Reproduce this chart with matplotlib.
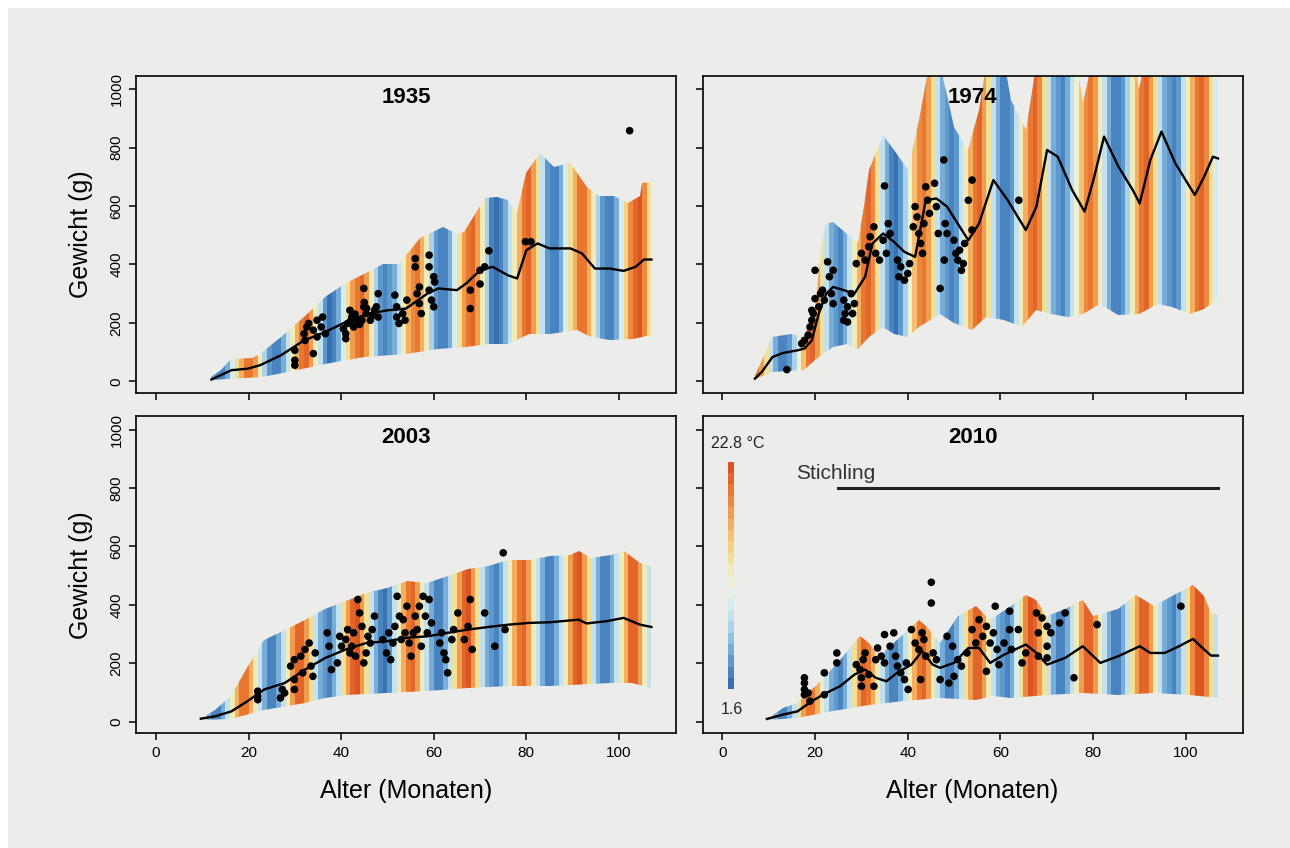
import matplotlib
matplotlib.use("Agg")
import matplotlib.pyplot as plt
import numpy as np
from matplotlib.colors import LinearSegmentedColormap, ListedColormap, BoundaryNorm
from matplotlib.patches import Polygon, Rectangle

plt.rcParams['font.family'] = ['Liberation Sans', 'DejaVu Sans']

# --- temperature scale (legend) ---
t_min, t_max = 1.6, 22.8
n_levels = 20

# --- stickleback period ---
stichling_from, stichling_to, stichling_level = 25, 107, 800

# --- monthly water temperature (degC), one value per month of age ---
start_1935 = 12
temp_1935 = [
    4.0, 3.1, 3.6, 5.6, 9.2, 13.6, 17.4, 20.0, 20.6, 17.6, 12.8, 7.6,
    4.4, 2.8, 3.2, 5.0, 8.8, 13.0, 17.0, 19.8, 21.0, 18.2, 13.2, 8.0,
    3.8, 2.6, 3.0, 5.2, 9.4, 13.8, 17.6, 20.2, 20.8, 17.8, 12.6, 7.4,
    4.6, 3.4, 3.8, 5.8, 9.0, 13.2, 17.2, 19.6, 20.4, 17.2, 12.4, 7.8,
    4.2, 2.9, 3.4, 5.4, 9.6, 14.0, 17.8, 20.4, 20.9, 18.0, 13.0, 7.2,
    3.6, 2.4, 2.8, 4.8, 8.6, 12.8, 16.8, 19.9, 21.2, 18.4, 13.4, 8.2,
    4.4, 3.2, 3.6, 5.6, 9.2, 13.4, 17.4, 20.1, 20.6, 17.4, 12.6, 7.6,
    4.0, 2.7, 3.3, 5.2, 9.8, 14.4, 18.6, 21.4, 22.4, 19.0, 13.8]

start_1974 = 7
temp_1974 = [
    20.4, 17.8, 13.4, 8.6, 5.0,
    3.6, 2.8, 4.4, 7.8, 12.2, 16.4, 19.8, 21.0, 18.4, 13.8, 9.0, 5.4,
    4.0, 3.2, 4.8, 8.2, 12.8, 17.0, 20.4, 21.6, 18.8, 14.0, 8.6, 5.0,
    3.4, 2.6, 4.2, 7.6, 12.0, 16.2, 19.4, 20.6, 18.0, 13.4, 8.4, 4.8,
    3.8, 3.0, 4.6, 8.0, 12.4, 16.6, 19.8, 20.8, 18.2, 13.6, 8.8, 5.2,
    3.6, 2.9, 4.5, 8.2, 12.6, 16.8, 20.0, 21.0, 18.6, 13.8, 9.0, 5.6,
    4.2, 3.4, 5.0, 8.4, 12.2, 16.4, 19.6, 20.4, 17.8, 13.2, 8.6, 5.0,
    3.6, 2.7, 4.3, 7.8, 12.4, 16.8, 20.2, 21.2, 18.4, 13.6, 8.8, 5.2,
    3.8, 3.1, 4.7, 8.1, 12.9, 17.2, 20.6, 21.4, 18.6, 14.0, 9.2]

start_2003 = 10
temp_2003 = [
    8.2, 4.8,
    3.4, 2.8, 4.8, 8.4, 12.8, 17.2, 20.4, 20.6, 17.4, 13.0, 8.2, 4.8,
    3.6, 3.0, 5.0, 8.6, 13.2, 17.6, 20.8, 21.0, 17.8, 13.4, 8.6, 5.2,
    3.8, 3.2, 5.2, 9.0, 13.6, 18.2, 21.4, 22.2, 18.4, 13.6, 8.4, 5.0,
    3.4, 2.6, 4.6, 8.2, 12.6, 17.0, 20.2, 20.8, 17.6, 13.2, 8.2, 4.8,
    3.6, 3.0, 5.0, 8.8, 13.4, 17.8, 21.2, 21.8, 18.2, 13.4, 8.6, 5.2,
    3.8, 3.2, 5.2, 8.6, 13.0, 17.4, 20.6, 21.0, 17.8, 13.2, 8.4, 5.0,
    3.4, 2.8, 4.8, 8.4, 13.2, 17.8, 21.0, 21.9, 18.0, 13.6, 8.8, 5.4,
    3.6, 3.0, 5.0, 8.6, 13.0, 17.4, 20.8, 21.2, 17.8, 13.2, 8.4]

start_2010 = 10
temp_2010 = [
    8.4, 5.0,
    3.6, 3.0, 5.0, 8.8, 13.4, 17.6, 20.4, 20.2, 17.2, 12.8, 8.2, 4.8,
    3.8, 3.2, 5.2, 9.0, 13.6, 17.8, 20.8, 20.6, 17.4, 13.0, 8.4, 5.0,
    3.4, 2.8, 4.8, 8.6, 13.2, 17.4, 20.6, 20.9, 17.8, 13.2, 8.6, 5.2,
    3.6, 3.0, 5.0, 8.8, 13.6, 18.0, 21.0, 20.8, 17.6, 13.0, 8.2, 4.8,
    3.8, 3.2, 5.4, 9.2, 14.0, 18.6, 22.0, 21.6, 18.0, 13.4, 8.6, 5.0,
    3.4, 2.8, 4.8, 8.6, 13.2, 17.6, 20.8, 20.8, 17.6, 13.0, 8.4, 5.0,
    3.6, 3.0, 5.0, 8.8, 13.4, 17.8, 21.0, 21.2, 17.8, 13.2, 8.6, 5.2,
    3.8, 3.2, 5.2, 9.0, 14.0, 18.8, 22.2, 22.6, 19.0, 13.8, 9.0]

# --- envelope of simulated weights (month, g) ---
upper_1935 = [(12, 15), (14, 40), (16.3, 78), (20.7, 80), (22.5, 95), (27, 152), (32, 220),
              (36.6, 290), (41, 335), (45.4, 370), (49, 403), (52.5, 403), (57, 489), (62, 530),
              (65, 506), (66.6, 512), (71, 626), (73.6, 632), (76, 620), (78, 575), (80, 712),
              (83, 780), (86, 735), (89.5, 746), (93, 666), (95.7, 634), (99, 634), (102, 609),
              (104.5, 634), (105, 678), (107, 683)]
lower_1935 = [(12, 3), (23, 15), (28.6, 32), (36.6, 60), (45, 83), (54, 95), (61, 112), (67, 118),
              (72, 129), (76, 129), (80.6, 163), (85, 163), (91, 175), (94, 152), (98, 143),
              (103, 146), (107, 158)]

upper_1974 = [(6.6, 3), (8.5, 72), (10.8, 152), (14.7, 163), (17.7, 152), (20, 243), (21.5, 480),
              (22.4, 540), (23.9, 546), (27, 506), (29.3, 472), (30.5, 600), (31.6, 723),
              (34.7, 843), (37, 792), (40, 723), (42.4, 895), (44.7, 1080), (47, 1080), (48.5, 980),
              (50, 872), (53, 792), (55.4, 929), (57, 1080), (61, 1080), (62.4, 963), (65.5, 860),
              (67.8, 1080), (76.5, 1080), (77.8, 952), (79.5, 1080), (89, 1080), (90, 1000),
              (91, 1080), (107, 1080)]
lower_1974 = [(6.6, 3), (10.8, 32), (17.7, 38), (20, 72), (23.9, 118), (27, 129), (29.3, 112),
              (31.6, 152), (34.7, 186), (37, 163), (40, 152), (42.4, 186), (47, 232), (50, 198),
              (53.9, 175), (57, 220), (60.8, 209), (64.7, 186), (67.8, 243), (70.9, 232),
              (74.7, 220), (77.8, 232), (81.6, 266), (85.5, 226), (90, 232), (94, 266), (97, 255),
              (100.9, 232), (104, 249), (107, 283)]

upper_2003 = [(9.6, 10), (12.8, 41), (16.3, 87), (19.8, 190), (23.4, 281), (27.8, 315),
              (32.2, 349), (36.6, 384), (41, 412), (45.4, 441), (49.8, 458), (54.2, 481),
              (58.6, 475), (63, 498), (67.4, 521), (71.8, 532), (76.2, 555), (80.7, 555), (85, 566),
              (89.5, 572), (91.3, 583), (94, 560), (98.3, 572), (101, 583), (104.5, 543), (107, 532)]
lower_2003 = [(9.6, 5), (16.3, 9), (23.4, 41), (32.2, 64), (36.6, 81), (41, 92), (49.8, 98),
              (58.6, 104), (67.4, 115), (76.2, 121), (85, 121), (94, 127), (98.3, 132),
              (102.7, 132), (107, 115)]

upper_2010 = [(9.6, 9), (13.1, 47), (16.2, 64), (18.5, 98), (21.6, 144), (25.4, 212), (29.7, 292),
              (31.6, 269), (33.9, 224), (37.7, 281), (42.4, 349), (43.9, 326), (47, 269),
              (50.8, 361), (54.7, 395), (57.8, 349), (62.4, 395), (65.5, 435), (67.8, 418),
              (70.1, 361), (74, 384), (77.8, 418), (80.1, 361), (85.5, 384), (89.3, 435),
              (93.2, 395), (97, 429), (101.6, 469), (104, 429), (105.5, 372), (107, 366)]
lower_2010 = [(9.6, 5), (16.2, 13), (23.9, 35), (31.6, 58), (39.3, 70), (47, 81), (54.7, 75),
              (58.5, 87), (62.4, 81), (70.1, 92), (77.8, 98), (85.5, 92), (93.2, 98), (100.9, 92),
              (107, 81)]

# --- mean weight (month, g) ---
mean_1935 = [(12, 6), (16.3, 38), (19.8, 43), (22.5, 55), (27, 89), (32, 140), (36.6, 169),
             (41, 203), (46, 232), (50, 243), (54, 249), (58.6, 300), (61, 318), (65, 312),
             (67, 335), (70, 380), (72.7, 392), (76, 363), (78, 352), (80, 449), (82.4, 472),
             (85, 455), (89.5, 455), (92, 438), (94.8, 386), (98, 386), (101, 378), (103.6, 392),
             (105.4, 417), (107, 417)]
mean_1974 = [(7, 9), (8.5, 32), (10.8, 83), (13.1, 97), (16.2, 106), (17.7, 112), (19.3, 140),
             (20.8, 232), (22.4, 300), (23.9, 323), (26.2, 312), (28.5, 300), (30.8, 358),
             (32.4, 472), (34.7, 506), (37, 478), (39.3, 443), (41.6, 426), (43.9, 620),
             (46.2, 626), (48.5, 598), (50.8, 540), (53.1, 483), (55.4, 540), (58.5, 689),
             (61.6, 620), (65.5, 518), (67.8, 598), (70.1, 792), (72.4, 769), (75.5, 655),
             (78.2, 581), (80.1, 689), (82.4, 838), (85.5, 735), (88.6, 655), (90.1, 609),
             (92.4, 758), (94.8, 855), (97.8, 746), (100.9, 666), (102, 638), (104, 700),
             (105.9, 769), (107, 763)]
mean_2003 = [(9.7, 10), (12.8, 18), (16.3, 35), (19.8, 70), (23.4, 110), (27.8, 132), (32.2, 178),
             (36.6, 218), (41, 247), (45.4, 269), (49.8, 275), (54.2, 287), (58.6, 292), (63, 304),
             (67.4, 315), (71.8, 324), (76.2, 332), (80.7, 338), (85, 340), (91.3, 349), (93, 336),
             (97.4, 344), (101, 355), (104.5, 332), (107, 324)]
mean_2010 = [(9.6, 9), (13.1, 24), (16.2, 35), (19.3, 70), (22.4, 98), (25.4, 121), (28.5, 161),
             (30.8, 178), (33.1, 150), (35.4, 138), (37.7, 167), (40.8, 195), (43.1, 241),
             (45.4, 195), (47, 184), (50, 201), (53.1, 252), (55.4, 252), (57.8, 201), (60.8, 229),
             (65.5, 264), (67.8, 235), (70.1, 195), (74, 218), (77.8, 258), (81.6, 201),
             (85.5, 224), (90.1, 258), (92.4, 235), (95.5, 235), (98.6, 258), (101.6, 283),
             (104, 247), (105.5, 226), (107, 226)]

# --- observed fish (month, g) ---
fish_1935 = [(30, 106), (30, 72), (30, 55), (32.2, 140), (32.6, 186), (32, 163), (33, 198), (34, 95),
             (34.8, 209), (35.7, 186), (36, 220), (34, 175), (34.8, 152), (36.6, 163), (41, 163),
             (41, 146), (41.4, 198), (41.9, 243), (42.3, 220), (42.7, 186), (43.6, 198), (44.5, 209),
             (44.9, 318), (44.9, 255), (45.4, 232), (46.3, 209), (47.2, 243), (48, 300), (47.6, 255),
             (48, 220), (40.5, 180), (42, 205), (43, 230), (44, 195), (45.5, 250), (46.8, 225),
             (43.2, 215), (45, 270), (51.6, 295), (52, 255), (52.5, 198), (52, 220), (53.3, 232),
             (53.8, 209), (54.2, 278), (56, 420), (56, 392), (56.4, 300), (56.9, 266), (57.3, 232),
             (56.9, 323), (59, 432), (59, 392), (59, 312), (59.5, 278), (60, 255), (60, 358),
             (60.2, 340), (67.9, 312), (67.9, 249), (70, 333), (70, 380), (71, 392), (71.9, 447),
             (79.8, 478), (81, 478), (102.3, 858)]
fish_1974 = [(13.9, 40), (17.1, 129), (17.7, 140), (18.5, 158), (18.9, 186), (19.3, 209), (19.6, 232),
             (19.3, 243), (20, 283), (20, 380), (20.8, 255), (21.2, 300), (21.6, 312), (22, 278),
             (22.7, 409), (23.1, 358), (23.5, 300), (23.9, 380), (23.9, 266), (26.2, 278), (26.5, 232),
             (26.2, 209), (27, 255), (27.8, 300), (28.1, 232), (28.5, 266), (27, 203), (28.9, 403),
             (30, 438), (30.8, 415), (31.6, 461), (31.9, 495), (32.7, 529), (33.1, 438), (33.9, 415),
             (35, 669), (34.7, 483), (35.4, 438), (35.8, 540), (36.2, 506), (37.8, 415), (38.1, 358),
             (38.5, 392), (39.3, 346), (40, 369), (40.4, 403), (41.2, 529), (41.6, 598), (42, 563),
             (42.4, 506), (42.8, 472), (43.2, 438), (43.5, 540), (43.9, 666), (44.3, 620), (44.7, 575),
             (45.8, 678), (46.2, 598), (46.6, 506), (47, 318), (47.8, 758), (47.9, 415), (48.1, 540),
             (48.5, 506), (50, 483), (50.4, 438), (50.8, 415), (51.2, 449), (51.6, 380), (52, 403),
             (52.3, 472), (53.1, 620), (53.9, 689), (53.9, 518), (64, 620)]
fish_2003 = [(22, 104), (22, 87), (22, 75), (26.9, 81), (27.8, 98), (27.3, 110), (29.1, 190),
             (29.9, 212), (29.9, 144), (29.9, 110), (31.3, 224), (31.7, 167), (32.2, 247), (33.1, 269),
             (33.5, 190), (33.9, 155), (34.4, 235), (37, 304), (37.4, 258), (37.9, 178), (39.2, 201),
             (39.7, 292), (40.1, 258), (41, 281), (41.4, 315), (41.9, 235), (42.3, 258), (42.7, 304),
             (43.1, 224), (43.6, 418), (44, 372), (44.5, 326), (44.9, 201), (45.4, 235), (45.8, 292),
             (46.3, 269), (46.7, 315), (47.2, 361), (49, 281), (49.8, 235), (50.3, 304), (50.7, 212),
             (51.2, 269), (51.6, 326), (52.1, 429), (52.6, 361), (53, 281), (53.4, 349), (53.8, 304),
             (54.2, 395), (54.7, 269), (55.1, 224), (55.6, 304), (56, 361), (56.4, 315), (56.9, 395),
             (57.3, 258), (57.7, 429), (58.2, 361), (58.6, 304), (59, 418), (59.5, 338), (61.3, 269),
             (61.7, 304), (62.2, 235), (62.6, 212), (63, 167), (63.9, 281), (64.3, 315), (65.2, 372),
             (66.6, 281), (67.4, 326), (67.9, 418), (68.3, 247), (71, 372), (73.2, 258), (75, 578),
             (75.4, 315)]
fish_2010 = [(17.7, 150), (17.7, 132), (17.7, 110), (18.5, 98), (17.7, 92), (18.9, 70), (22, 167),
             (22, 92), (24.7, 235), (24.7, 201), (28.9, 195), (29.7, 178), (30, 150), (30, 121),
             (30.4, 212), (30.8, 235), (31.6, 161), (32.7, 121), (33.1, 212), (33.5, 252), (34.3, 224),
             (35, 298), (35, 201), (36.2, 258), (37, 304), (37.4, 224), (37.8, 190), (38.5, 167),
             (39.3, 144), (39.7, 201), (40.1, 110), (40.8, 315), (41.6, 269), (42.4, 247), (42.8, 144),
             (43.1, 304), (43.5, 281), (43.9, 224), (45.1, 477), (45.1, 406), (45.5, 235), (46.2, 212),
             (47, 144), (48.5, 292), (48.9, 132), (49.7, 258), (50, 155), (50.8, 212), (51.6, 190),
             (52.8, 235), (53.9, 315), (54.7, 269), (55.4, 349), (56.2, 292), (57, 172), (57, 326),
             (57.8, 269), (58.5, 304), (58.9, 395), (59.3, 247), (59.7, 195), (60.8, 269), (62, 378),
             (62, 315), (62.4, 247), (63.9, 315), (64.7, 201), (65.5, 235), (67.8, 372), (68.2, 304),
             (68.2, 224), (69, 355), (70.1, 326), (70.1, 258), (70.1, 218), (70.9, 304), (72.8, 338),
             (74, 372), (75.9, 150), (80.9, 332), (99, 395)]

bg = '#ecedeb'
base = LinearSegmentedColormap.from_list('temp', ['#3870b2', '#5c98cd', '#8cbddf', '#bedeef',
                                                   '#e2f2f2', '#f0f0c8', '#f4dc8c', '#f6bb6c',
                                                   '#f09a4c', '#e8762f', '#dc5422'])
cmap = ListedColormap(base(np.linspace(0, 1, n_levels)))
norm = BoundaryNorm(np.linspace(t_min, t_max, n_levels + 1), n_levels)


def draw_panel(ax, title, start, temps, upper, lower, mean, fish):
    ax.set_facecolor(bg)
    edges = np.arange(start, start + len(temps) + 1)
    env = np.array(upper + lower[::-1])
    poly = Polygon(env, closed=True, facecolor='none', edgecolor='none')
    ax.add_patch(poly)
    mesh = ax.pcolormesh(edges, [-60, 1100], np.array(temps)[None, :], cmap=cmap, norm=norm,
                         shading='flat', antialiased=False, zorder=1)
    mesh.set_clip_path(poly)
    mx, my = zip(*mean)
    ax.plot(mx, my, color='black', lw=1.7, zorder=3, solid_joinstyle='round')
    fx, fy = zip(*fish)
    ax.scatter(fx, fy, s=30, color='black', edgecolors='none', zorder=4)
    ax.text(0.5, 0.933, title, transform=ax.transAxes, ha='center', va='center',
            fontsize=16, fontweight='bold', zorder=5)
    ax.set_xlim(-4.3, 112.3)
    ax.set_ylim(-40, 1046)
    ax.set_xticks([0, 20, 40, 60, 80, 100])
    ax.set_yticks([0, 200, 400, 600, 800, 1000])
    ax.tick_params(direction='out', length=5, width=1.1, labelsize=11, pad=4)
    for s in ax.spines.values():
        s.set_linewidth(1.2)


def main():
    fig = plt.figure(figsize=(12.9, 8.48), dpi=100)
    fig.patch.set_facecolor('white')
    fig.add_artist(Rectangle((8 / 1290, 0), 1, 1 - 8 / 848, transform=fig.transFigure,
                             facecolor=bg, edgecolor='none', zorder=-10))

    lx, rx, w = 0.1054, 0.5446, 0.4186
    ty, by, h = 0.5366, 0.1353, 0.3740
    ax1 = fig.add_axes([lx, ty, w, h])
    ax2 = fig.add_axes([rx, ty, w, h])
    ax3 = fig.add_axes([lx, by, w, h])
    ax4 = fig.add_axes([rx, by, w, h])

    draw_panel(ax1, '1935', start_1935, temp_1935, upper_1935, lower_1935, mean_1935, fish_1935)
    draw_panel(ax2, '1974', start_1974, temp_1974, upper_1974, lower_1974, mean_1974, fish_1974)
    draw_panel(ax3, '2003', start_2003, temp_2003, upper_2003, lower_2003, mean_2003, fish_2003)
    draw_panel(ax4, '2010', start_2010, temp_2010, upper_2010, lower_2010, mean_2010, fish_2010)

    for ax in (ax1, ax2):
        ax.set_xticklabels([])
    for ax in (ax2, ax4):
        ax.set_yticklabels([])
    for ax in (ax1, ax3):
        for lab in ax.get_yticklabels():
            lab.set_rotation(90)
            lab.set_va('center')
        ax.set_ylabel('Gewicht (g)', fontsize=18, labelpad=12)
    for ax in (ax3, ax4):
        ax.set_xlabel('Alter (Monaten)', fontsize=18, labelpad=14)

    # temperature legend in the 2010 panel
    lev = np.linspace(t_min, t_max, n_levels + 1)
    centers = (lev[:-1] + lev[1:]) / 2
    ax4.pcolormesh([1.3, 2.5], np.linspace(110, 890, n_levels + 1), centers[:, None],
                   cmap=cmap, norm=norm, shading='flat', zorder=2)
    ax4.text(0.066, 0.915, f'{t_max} °C', transform=ax4.transAxes, ha='center', va='center',
             fontsize=11.5, color='#222222')
    ax4.text(0.055, 0.074, f'{t_min}', transform=ax4.transAxes, ha='center', va='center',
             fontsize=11.5, color='#222222')

    ax4.plot([stichling_from, stichling_to], [stichling_level, stichling_level],
             color='#222222', lw=2.2, zorder=3)
    ax4.text(stichling_from - 9, stichling_level + 50, 'Stichling', ha='left', va='center',
             fontsize=15, color='#333333')

    fig.savefig('out.png', dpi=100, facecolor=fig.get_facecolor())


if __name__ == '__main__':
    main()
